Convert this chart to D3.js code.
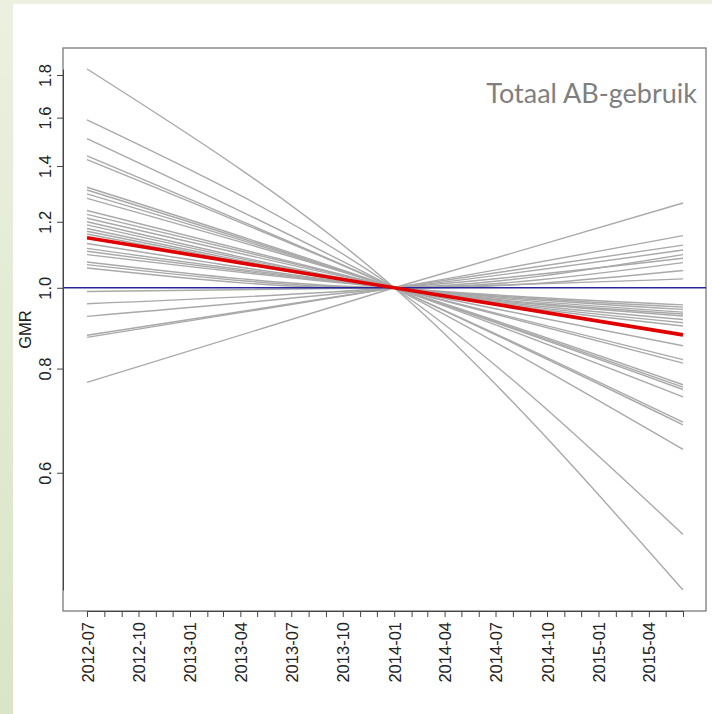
<!DOCTYPE html>
<html>
<head>
<meta charset="utf-8">
<script src="https://cdn.jsdelivr.net/npm/d3@7"></script>
<style>
  body { margin: 0; background: #fff; }
  svg { display: block; }
</style>
</head>
<body>
<div id="chart"></div>
<script>
// Dates at which each GMR curve is read (start, reference month, end)
var dates = ["2012-07", "2014-01", "2015-06"];

// Grey curves: GMR at 2012-07 and at 2015-06 (all pass through 1.0 at 2014-01)
var startValues = [0.770, 0.872, 0.877, 0.924, 0.957, 0.990, 1.056, 1.066, 1.074,
    1.83, 1.59, 1.51, 1.44, 1.425, 1.32, 1.31, 1.296, 1.28, 1.238, 1.225, 1.212,
    1.20, 1.19, 1.178, 1.169, 1.16, 1.13, 1.115, 1.106, 1.096];
var endValues = [1.264, 1.155, 1.125, 1.110, 1.085, 1.025, 1.096, 1.072, 1.049,
    0.434, 0.506, 0.640, 0.685, 0.690, 0.740, 0.755, 0.760, 0.765, 0.812, 0.820, 0.852,
    0.900, 0.908, 0.916, 0.925, 0.930, 0.935, 0.942, 0.948, 0.954];
var centerValue = 1.0;

// Overall (red) curve
var meanValues = [1.148, 1.0, 0.878];

var yTicks = [0.6, 0.8, 1.0, 1.2, 1.4, 1.6, 1.8];
var chartTitle = "Totaal AB-gebruik";
var yLabel = "GMR";

var W = 712, H = 714;
var parseMonth = d3.timeParse("%Y-%m");
var fmtMonth = d3.timeFormat("%Y-%m");
var dateObjs = dates.map(parseMonth);

var series = startValues.map((s, i) => [s, centerValue, endValues[i]]);

var svg = d3.select("#chart").append("svg")
    .attr("width", W)
    .attr("height", H);

// Light green slide border (left and top)
var grad = svg.append("defs").append("linearGradient")
    .attr("id", "bg").attr("x1", 0).attr("y1", 0).attr("x2", 0).attr("y2", 1);
grad.append("stop").attr("offset", "0%").attr("stop-color", "#ecf0e0");
grad.append("stop").attr("offset", "100%").attr("stop-color", "#d9e5c6");
svg.append("rect").attr("x", 0).attr("y", 0).attr("width", 13).attr("height", H).attr("fill", "url(#bg)");
svg.append("rect").attr("x", 0).attr("y", 0).attr("width", W).attr("height", 4).attr("fill", "#ecf0e0");

// Plot box (R style: data range padded by 4%)
var box = {left: 63, right: 706, top: 48, bottom: 611};

var x = d3.scaleTime()
    .domain([dateObjs[0], dateObjs[2]])
    .range([87, 683]);

var allValues = startValues.concat(endValues, meanValues);
var y = d3.scaleLog()
    .domain(d3.extent(allValues))
    .range([590, 69]);

svg.append("rect")
    .attr("x", box.left).attr("y", box.top)
    .attr("width", box.right - box.left).attr("height", box.bottom - box.top)
    .attr("fill", "none").attr("stroke", "#7a7a7a").attr("stroke-width", 1.3);

var line = d3.line()
    .x((d, i) => x(dateObjs[i]))
    .y(d => y(d))
    .curve(d3.curveNatural);

// Grey curves
svg.append("g").selectAll("path")
    .data(series)
    .enter()
    .append("path")
    .attr("d", line)
    .attr("fill", "none")
    .attr("stroke", "#a9a9a9")
    .attr("stroke-width", 1.4);

// Reference line at GMR = 1
svg.append("line")
    .attr("x1", box.left).attr("x2", box.right)
    .attr("y1", y(1)).attr("y2", y(1))
    .attr("stroke", "#26269a").attr("stroke-width", 1.6);

// Overall curve
svg.append("path")
    .attr("d", line(meanValues))
    .attr("fill", "none")
    .attr("stroke", "#e00000")
    .attr("stroke-width", 3.6);

// X axis: monthly ticks, labels each quarter
var months = d3.timeMonth.range(dateObjs[0], d3.timeDay.offset(dateObjs[2], 1));
var xAxis = svg.append("g")
    .attr("transform", "translate(0," + box.bottom + ")")
    .call(d3.axisBottom(x)
        .tickValues(months)
        .tickSize(6)
        .tickSizeOuter(0)
        .tickFormat(d => d.getMonth() % 3 === 0 ? fmtMonth(d) : ""));
xAxis.select(".domain").attr("stroke", "#444");
xAxis.selectAll(".tick line").attr("stroke", "#444");
xAxis.selectAll("text")
    .attr("transform", "rotate(-90)")
    .attr("text-anchor", "end")
    .attr("x", -11)
    .attr("y", 6)
    .attr("dy", 0)
    .style("font-family", "'Liberation Sans', Arial, sans-serif")
    .style("font-size", "16.5px")
    .style("fill", "#222");

// Y axis (log scale)
var yAxis = svg.append("g")
    .attr("transform", "translate(" + box.left + ",0)")
    .call(d3.axisLeft(y)
        .tickValues(yTicks)
        .tickSize(6)
        .tickSizeOuter(0)
        .tickFormat(d3.format(".1f")));
yAxis.select(".domain").attr("stroke", "#444");
yAxis.selectAll(".tick line").attr("stroke", "#444");
yAxis.selectAll("text")
    .attr("transform", "rotate(-90)")
    .attr("text-anchor", "middle")
    .attr("x", 0)
    .attr("y", -12)
    .attr("dy", 0)
    .style("font-family", "'Liberation Sans', Arial, sans-serif")
    .style("font-size", "16.5px")
    .style("fill", "#222");

svg.append("text")
    .attr("transform", "translate(31," + ((box.top + box.bottom) / 2) + ") rotate(-90)")
    .attr("text-anchor", "middle")
    .style("font-family", "'Liberation Sans', Arial, sans-serif")
    .style("font-size", "16.5px")
    .style("fill", "#222")
    .text(yLabel);

// Panel title
svg.append("text")
    .attr("x", 697)
    .attr("y", 103)
    .attr("text-anchor", "end")
    .style("font-family", "Lato, 'Open Sans', sans-serif")
    .style("font-size", "27px")
    .style("fill", "#7f7f7f")
    .text(chartTitle);
</script>
</body>
</html>
